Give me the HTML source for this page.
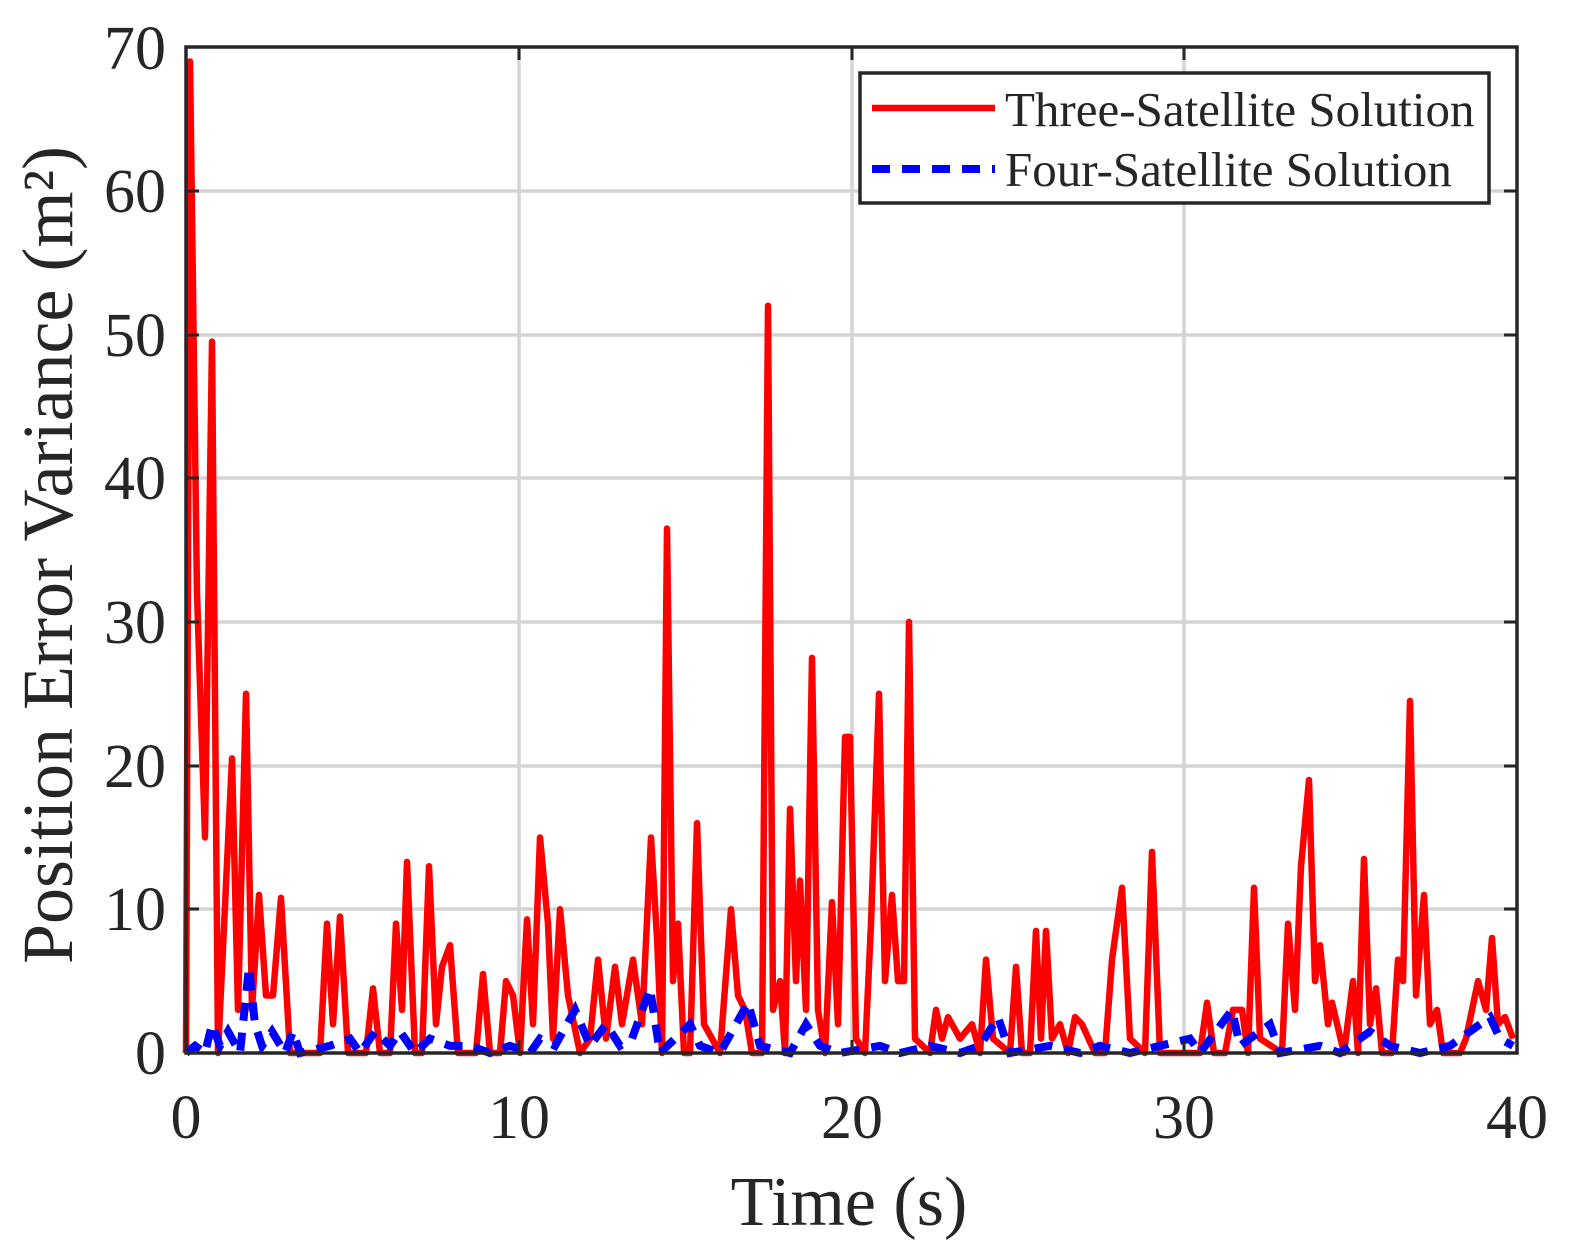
<!DOCTYPE html>
<html><head><meta charset="utf-8"><style>
html,body{margin:0;padding:0;background:#fff;}
svg{display:block;}
text{font-family:"Liberation Serif",serif;fill:#262626;}
</style></head><body>
<svg width="1574" height="1255" viewBox="0 0 1574 1255">
<rect x="0" y="0" width="1574" height="1255" fill="#fff"/>
<g stroke="#d4d4d4" stroke-width="3.5">
<line x1="519" y1="47" x2="519" y2="1053"/><line x1="852" y1="47" x2="852" y2="1053"/><line x1="1184" y1="47" x2="1184" y2="1053"/>
<line x1="186" y1="909" x2="1517" y2="909"/><line x1="186" y1="766" x2="1517" y2="766"/><line x1="186" y1="622" x2="1517" y2="622"/>
<line x1="186" y1="478" x2="1517" y2="478"/><line x1="186" y1="335" x2="1517" y2="335"/><line x1="186" y1="191" x2="1517" y2="191"/>
</g>
<g transform="translate(0,1053) scale(1,-14.37)">
<polyline fill="none" stroke="#ff0000" stroke-width="6.5" vector-effect="non-scaling-stroke" stroke-linejoin="round" points="186,0 190,69 197,32 205,15 212,49.5 218,0 232,20.5 238,3 246,25 252,3 259,11 266,4 273,4 281,10.8 290,0 320,0 327,9 333,2 340,9.5 348,0 366,0 373,4.5 380,0 390,0 396,9 402,3 407,13.3 415,0 422,0 429,13 436,2 442,6 450,7.5 458,0 476,0 483,5.5 490,0 500,0 506,5 513,4 520,0 527,9.3 533,2 540,15 548,9 553,1 560,10 568,4 580,0 590,1 598,6.5 606,1 615,6 622,2 633,6.5 642,2 651,15 657,8 662,0 667,36.5 673,5 678,9 684,0 690,0 697,16 704,2 720,0 731,10 738,4 745,3 752,0 762,0 768,52 773,3 780,5 785,0 790,17 796,5 800,12 806,3 812,27.5 818,3 825,0 832,10.5 838,2 845,22 850,22 856,1 865,0 871,9 879,25 885,5 892,11 898,5 904,5 909,30 915,1 930,0 936,3 942,1 948,2.5 960,1 972,2 980,0 986,6.5 993,1 1010,0 1016,6 1022,0 1030,0 1036,8.5 1041,1 1046,8.5 1052,1 1060,2 1068,0 1075,2.5 1082,2 1095,0 1105,0 1112,6.5 1122,11.5 1130,1 1145,0 1152,14 1160,0 1180,0 1200,0 1207,3.5 1214,0 1225,0 1233,3 1242,3 1248,0 1254,11.5 1260,1 1282,0 1288,9 1295,3 1301,13 1309,19 1315,5 1320,7.5 1328,2 1332,3.5 1344,0 1353,5 1358,0 1364,13.5 1370,2 1376,4.5 1382,0 1392,0 1398,6.5 1403,5 1410,24.5 1416,4 1424,11 1430,2 1437,3 1443,0 1460,0 1466,1 1478,5 1486,3 1492,8 1498,2 1505,2.5 1513,1"/>
<polyline fill="none" stroke="#0000ff" stroke-width="8" stroke-dasharray="18,12" vector-effect="non-scaling-stroke" points="186,0 195,0.5 205,0 212,2 220,0.5 228,1.5 240,0 249,6 255,2 262,0.5 272,1.5 285,0 293,1.5 300,0 330,0.5 350,1 360,0 375,1.5 390,0.5 400,1.5 415,0 430,1 450,0.5 470,0.5 490,0 510,0.5 530,0 540,1 555,0.5 575,3 590,0.5 606,2 620,0.5 632,1 650,4.5 660,0 690,2 700,0.5 720,0 748,3.5 760,0.5 790,0 806,2 820,0.5 840,0 880,0.5 900,0 930,0.5 960,0 980,0.5 998,2.5 1010,0 1050,0.5 1080,0 1100,0.5 1130,0 1160,0.5 1190,1 1200,0 1232,3 1240,0.5 1270,2 1280,0 1320,0.5 1340,0 1370,1.5 1390,0.5 1420,0 1450,0.5 1490,2.5 1500,1 1513,0.5"/>
</g>
<rect x="186" y="47" width="1331" height="1006" fill="none" stroke="#262626" stroke-width="3.5"/>
<g stroke="#262626" stroke-width="3">
<line x1="519" y1="1053" x2="519" y2="1040"/><line x1="852" y1="1053" x2="852" y2="1040"/><line x1="1184" y1="1053" x2="1184" y2="1040"/>
<line x1="519" y1="47" x2="519" y2="60"/><line x1="852" y1="47" x2="852" y2="60"/><line x1="1184" y1="47" x2="1184" y2="60"/>
<line x1="186" y1="909" x2="199" y2="909"/><line x1="186" y1="766" x2="199" y2="766"/><line x1="186" y1="622" x2="199" y2="622"/><line x1="186" y1="478" x2="199" y2="478"/><line x1="186" y1="335" x2="199" y2="335"/><line x1="186" y1="191" x2="199" y2="191"/>
<line x1="1517" y1="909" x2="1504" y2="909"/><line x1="1517" y1="766" x2="1504" y2="766"/><line x1="1517" y1="622" x2="1504" y2="622"/><line x1="1517" y1="478" x2="1504" y2="478"/><line x1="1517" y1="335" x2="1504" y2="335"/><line x1="1517" y1="191" x2="1504" y2="191"/>
</g>
<g font-size="62" text-anchor="end">
<text x="166" y="1074">0</text><text x="166" y="930">10</text><text x="166" y="787">20</text><text x="166" y="643">30</text><text x="166" y="499">40</text><text x="166" y="356">50</text><text x="166" y="212">60</text><text x="166" y="69">70</text>
</g>
<g font-size="62" text-anchor="middle">
<text x="186" y="1138">0</text><text x="519" y="1138">10</text><text x="852" y="1138">20</text><text x="1184" y="1138">30</text><text x="1517" y="1138">40</text>
</g>
<text x="849" y="1225" font-size="70" text-anchor="middle">Time (s)</text>
<text transform="translate(72,555) rotate(-90)" font-size="72" text-anchor="middle">Position Error Variance (m²)</text>
<rect x="860" y="73" width="629" height="130" fill="#fff" stroke="#262626" stroke-width="3.5"/>
<line x1="872" y1="108" x2="995" y2="108" stroke="#ff0000" stroke-width="6.5"/>
<line x1="872" y1="169" x2="995" y2="169" stroke="#0000ff" stroke-width="8" stroke-dasharray="18,12"/>
<text x="1005" y="126" font-size="49">Three-Satellite Solution</text>
<text x="1005" y="186" font-size="49">Four-Satellite Solution</text>
</svg>
</body></html>
